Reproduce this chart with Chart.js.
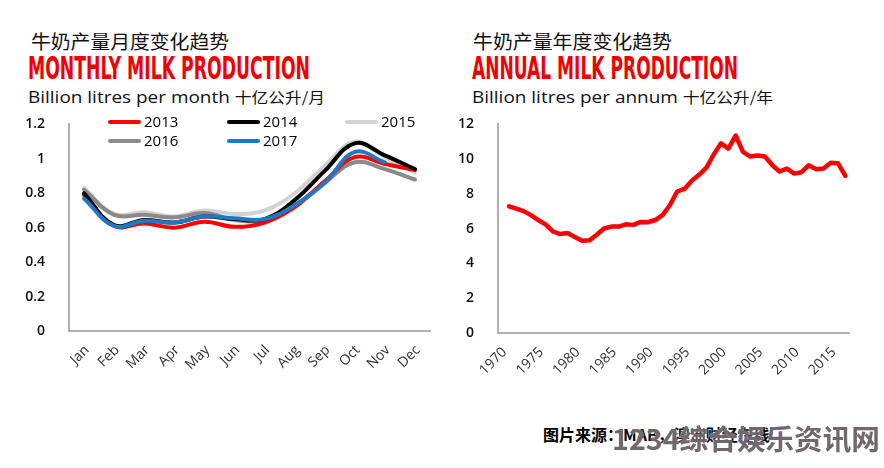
<html>
<head>
    <meta charset="UTF-8">
    <script src="https://cdn.jsdelivr.net/npm/chart.js"></script>
    <title>牛奶产量</title>
    <style>
        body { margin: 0; background: #fff; width: 884px; height: 468px; position: relative; overflow: hidden; font-family: 'Open Sans', sans-serif; }
        .abs { position: absolute; white-space: nowrap; transform-origin: 0 0; line-height: 1; }
        .cn { font-family: 'Noto Sans CJK SC'; font-size: 19px; color: #111; }
        .red { font-family: 'DejaVu Sans Condensed', 'DejaVu Sans'; font-weight: bold; font-size: 32px; color: #f20000; }
        .sub { font-family: 'Open Sans'; font-size: 17px; color: #111; }
        .sub span { font-family: 'Noto Sans CJK SC'; font-size: 15px; }
        .src { font-family: 'Noto Sans CJK SC'; font-weight: bold; font-size: 16px; color: #000; }
        .mark { font-family: 'Noto Sans CJK SC'; font-weight: bold; font-size: 28px; color: rgba(105, 95, 100, 0.95); text-shadow: 0 0 2px #fff; }
        .leg { position: absolute; font-family: 'Open Sans'; font-size: 15px; color: #000; line-height: 1; white-space: nowrap; }
        .leg i { display: inline-block; width: 33px; height: 4px; border-radius: 2px; vertical-align: middle; margin-right: 3px; position: relative; top: -1px; }
        canvas { position: absolute; }
    </style>
</head>
<body>
    <div class="abs cn" id="t1" style="left:31px; top:31px;">牛奶产量月度变化趋势</div>
    <div class="abs red" id="r1" style="left:28px; top:52px;">MONTHLY MILK PRODUCTION</div>
    <div class="abs sub" id="s1" style="left:28px; top:88px;">Billion litres per month <span>十亿公升/月</span></div>

    <div class="abs cn" id="t2" style="left:473px; top:31px;">牛奶产量年度变化趋势</div>
    <div class="abs red" id="r2" style="left:472px; top:52px;">ANNUAL MILK PRODUCTION</div>
    <div class="abs sub" id="s2" style="left:472px; top:88px;">Billion litres per annum <span>十亿公升/年</span></div>

    <canvas id="monthly" width="440" height="320" style="left:0px; top:100px;"></canvas>
    <canvas id="annual" width="444" height="320" style="left:440px; top:100px;"></canvas>
    <div id="legend"></div>

    <div class="abs src" style="left:543px; top:426px;">图片来源：MAB，澳洲财经在线</div>
    <div class="abs mark" id="wm" style="left:612px; top:424px;">1234综合娱乐资讯网</div>

    <script>
        // donnees mensuelles (milliards de litres)
        const months = ['Jan', 'Feb', 'Mar', 'Apr', 'May', 'Jun', 'Jul', 'Aug', 'Sep', 'Oct', 'Nov', 'Dec'];
        const seriesNames = ['2013', '2014', '2015', '2016', '2017'];
        const seriesColors = ['#ff0000', '#000000', '#d2d2d2', '#8a8a8a', '#1f78c4'];
        const drawOrder = [3, 1, 5, 4, 0];
        const prod2013 = [0.79, 0.61, 0.625, 0.60, 0.635, 0.605, 0.63, 0.72, 0.87, 1.01, 0.97, 0.935];
        const prod2014 = [0.80, 0.615, 0.645, 0.63, 0.665, 0.65, 0.65, 0.76, 0.93, 1.09, 1.02, 0.94];
        const prod2015 = [0.83, 0.68, 0.69, 0.665, 0.70, 0.68, 0.70, 0.80, 0.96, 1.10, 1.01, 0.92];
        const prod2016 = [0.82, 0.675, 0.675, 0.66, 0.685, 0.645, 0.645, 0.73, 0.86, 0.98, 0.94, 0.88];
        const prod2017 = [0.77, 0.61, 0.64, 0.63, 0.665, 0.655, 0.65, 0.73, 0.86, 1.04, 0.98, null];
        const monthlyValues = [prod2013, prod2014, prod2015, prod2016, prod2017];

        // donnees annuelles
        const annualYears = ['1970', '1971', '1972', '1973', '1974', '1975', '1976', '1977', '1978', '1979',
            '1980', '1981', '1982', '1983', '1984', '1985', '1986', '1987', '1988', '1989',
            '1990', '1991', '1992', '1993', '1994', '1995', '1996', '1997', '1998', '1999',
            '2000', '2001', '2002', '2003', '2004', '2005', '2006', '2007', '2008', '2009',
            '2010', '2011', '2012', '2013', '2014', '2015', '2016', '2017'];
        const annualValues = [null, 7.29, 7.16, 7.01, 6.78, 6.50, 6.25, 5.84, 5.69, 5.75,
            5.52, 5.31, 5.33, 5.65, 6.01, 6.12, 6.12, 6.25, 6.22, 6.39,
            6.37, 6.50, 6.78, 7.35, 8.14, 8.29, 8.76, 9.10, 9.51, 10.27,
            10.91, 10.61, 11.36, 10.42, 10.15, 10.21, 10.15, 9.66, 9.29, 9.46,
            9.17, 9.25, 9.65, 9.42, 9.46, 9.80, 9.76, 9.04];

        // ajuster la largeur des titres
        function fitWidth(id, w) {
            const el = document.getElementById(id);
            const r = el.getBoundingClientRect().width;
            el.style.transform = 'scaleX(' + (w / r) + ')';
        }
        fitWidth('t1', 198);
        fitWidth('t2', 199);
        fitWidth('r1', 282);
        fitWidth('r2', 266);
        fitWidth('s1', 297);
        fitWidth('s2', 301);
        fitWidth('wm', 268);

        // legende
        const legendX = [108, 227, 345];
        const legendY = [114, 133];
        const legend = document.getElementById('legend');
        seriesNames.forEach((name, i) => {
            const d = document.createElement('div');
            d.className = 'leg';
            d.style.left = legendX[i % 3] + 'px';
            d.style.top = legendY[Math.floor(i / 3)] + 'px';
            d.innerHTML = '<i style="background:' + seriesColors[i] + '"></i>' + name;
            legend.appendChild(d);
        });

        const axisBorder = { display: true, color: '#b0b0b0', width: 2 };
        const tickFont = { family: 'Open Sans', size: 14 };
        const yFont = { family: 'Open Sans', size: 14, weight: '600' };

        new Chart(document.getElementById('monthly'), {
            type: 'line',
            data: {
                labels: months,
                datasets: seriesNames.map((name, i) => ({
                    label: name,
                    data: monthlyValues[i],
                    borderColor: seriesColors[i],
                    borderWidth: 4,
                    pointRadius: 0,
                    tension: 0.4,
                    fill: false,
                    order: drawOrder[i],
                    borderCapStyle: 'round',
                    borderJoinStyle: 'round'
                }))
            },
            options: {
                responsive: false,
                animation: false,
                layout: { padding: { top: 22, right: 10 } },
                plugins: { legend: { display: false }, tooltip: { enabled: false } },
                scales: {
                    x: {
                        offset: true,
                        grid: { display: false },
                        border: axisBorder,
                        ticks: { autoSkip: false, minRotation: 45, maxRotation: 45, padding: 3, labelOffset: 3, color: '#333', font: tickFont },
                        afterFit: (s) => { s.height = 89; }
                    },
                    y: {
                        min: 0, max: 1.2,
                        grid: { display: false },
                        border: axisBorder,
                        ticks: {
                            stepSize: 0.2, padding: 16, color: '#111', font: yFont,
                            callback: (v) => String(Number(v.toFixed(1)))
                        },
                        afterFit: (s) => { s.width = 69; }
                    }
                }
            }
        });

        new Chart(document.getElementById('annual'), {
            type: 'line',
            data: {
                labels: annualYears,
                datasets: [{
                    label: 'Annual',
                    data: annualValues,
                    borderColor: '#ff0000',
                    borderWidth: 4.5,
                    pointRadius: 0,
                    tension: 0,
                    fill: false,
                    borderCapStyle: 'round',
                    borderJoinStyle: 'round'
                }]
            },
            options: {
                responsive: false,
                animation: false,
                layout: { padding: { top: 22, right: 35 } },
                plugins: { legend: { display: false }, tooltip: { enabled: false } },
                scales: {
                    x: {
                        offset: true,
                        grid: { display: false },
                        border: axisBorder,
                        ticks: {
                            autoSkip: false, minRotation: 45, maxRotation: 45, padding: 3, labelOffset: 3, color: '#333',
                            font: tickFont,
                            callback: function (v) { const y = this.getLabelForValue(v); return Number(y) % 5 === 0 ? y : ''; }
                        },
                        afterFit: (s) => { s.height = 87; }
                    },
                    y: {
                        min: 0, max: 12,
                        grid: { display: false },
                        border: axisBorder,
                        ticks: { stepSize: 2, padding: 16, color: '#111', font: yFont },
                        afterFit: (s) => { s.width = 58; }
                    }
                }
            }
        });
    </script>
</body>
</html>
